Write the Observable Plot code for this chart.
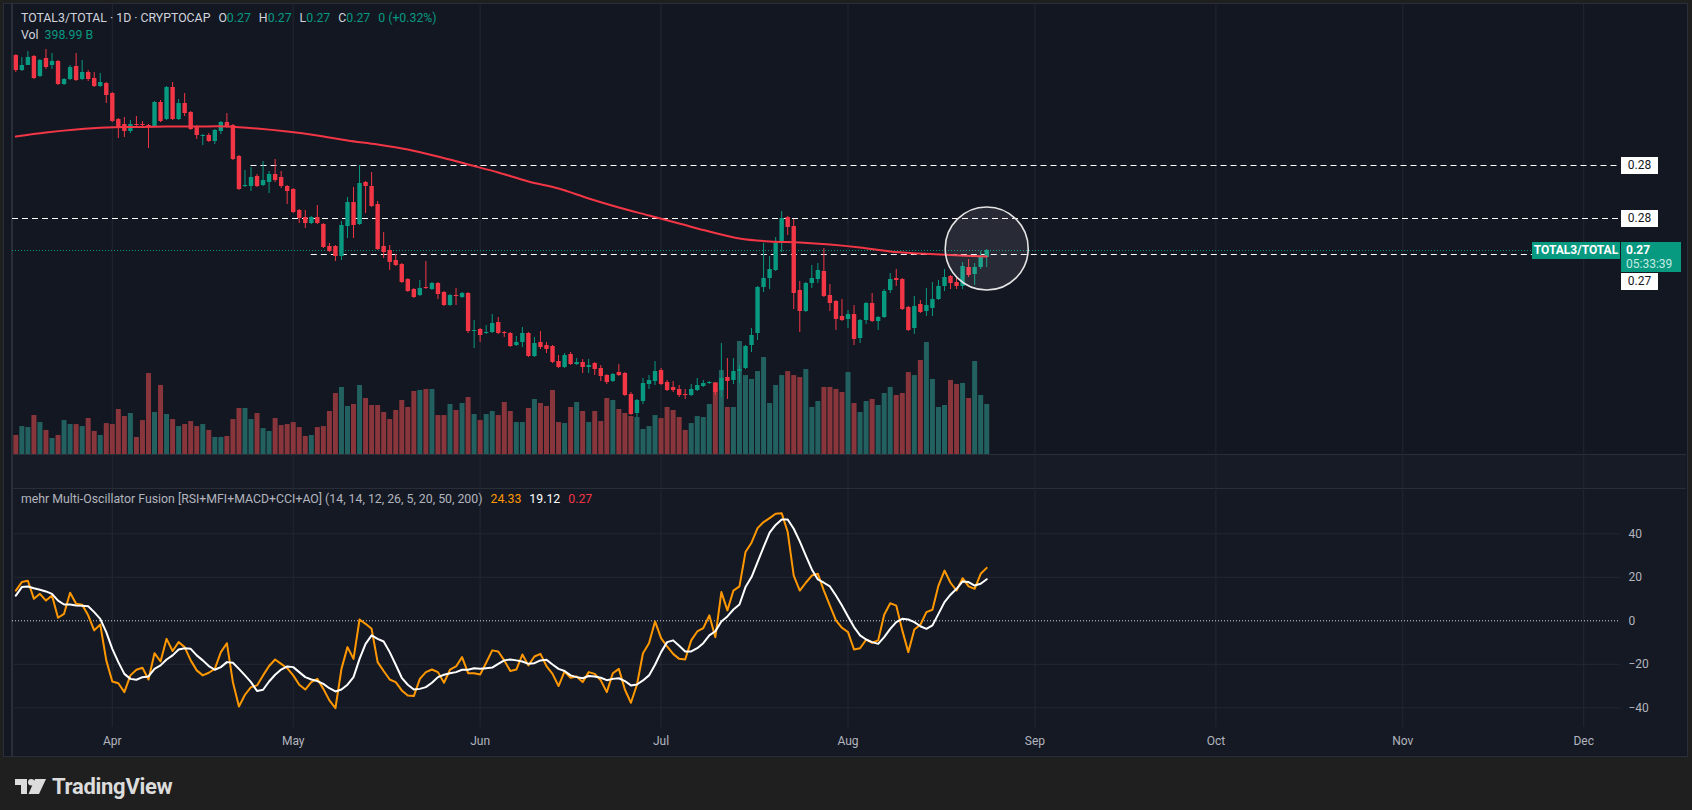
<!DOCTYPE html>
<html><head><meta charset="utf-8">
<script src="https://cdn.jsdelivr.net/npm/d3@7"></script>
<script src="https://cdn.jsdelivr.net/npm/@observablehq/plot@0.6"></script>
<style>
html,body{margin:0;padding:0;background:#1f1f1f;}
#wrap{position:relative;width:1692px;height:810px;overflow:hidden;background:#1f1f1f;font-family:Roboto,"Noto Sans",sans-serif;}
#wrap > div, #wrap > svg{position:absolute;}
#wrap svg{left:0;top:0;}
.row{display:flex;white-space:nowrap;font-size:12.3px;line-height:16px;}
.row span{display:inline-block;}
</style></head><body><div id="wrap"></div>
<script>
// ---------------- data ----------------
const startDate = "2025-03-16"; // first daily candle
const open = [
0.2935,0.2920,0.2925,0.2934,0.2914,0.2932,0.2925,0.2929,0.2906,0.2911,
0.2924,0.2911,0.2918,0.2912,0.2904,0.2907,0.2897,0.2871,0.2866,0.2859,
0.2866,0.2866,0.2865,0.2864,0.2888,0.2871,0.2903,0.2871,0.2887,0.2878,
0.2864,0.2854,0.2855,0.2849,0.2859,0.2868,0.2865,0.2834,0.2804,0.2804,
0.2814,0.2805,0.2808,0.2816,0.2813,0.2804,0.2801,0.2780,0.2773,0.2767,
0.2773,0.2766,0.2744,0.2744,0.2734,0.2764,0.2788,0.2766,0.2808,0.2804,
0.2786,0.2744,0.2740,0.2730,0.2726,0.2711,0.2701,0.2695,0.2703,0.2701,
0.2707,0.2698,0.2685,0.2695,0.2693,0.2697,0.2659,0.2661,0.2657,0.2658,
0.2668,0.2658,0.2657,0.2645,0.2648,0.2657,0.2634,0.2648,0.2645,0.2644,
0.2629,0.2623,0.2636,0.2626,0.2628,0.2623,0.2627,0.2622,0.2615,0.2609,
0.2618,0.2617,0.2596,0.2577,0.2589,0.2606,0.2609,0.2620,0.2608,0.2603,
0.2601,0.2596,0.2595,0.2600,0.2604,0.2607,0.2607,0.2600,0.2613,0.2610,
0.2619,0.2622,0.2645,0.2657,0.2703,0.2712,0.2720,0.2747,0.2773,0.2764,
0.2700,0.2679,0.2707,0.2711,0.2719,0.2695,0.2689,0.2674,0.2671,0.2676,
0.2652,0.2670,0.2687,0.2669,0.2673,0.2700,0.2712,0.2711,0.2683,0.2662,
0.2686,0.2679,0.2682,0.2691,0.2704,0.2714,0.2708,0.2704,0.2723,0.2716,
0.2723,0.2733];
const high = [
0.2936,0.2933,0.2939,0.2935,0.2931,0.2941,0.2937,0.2930,0.2912,0.2925,
0.2937,0.2930,0.2920,0.2918,0.2917,0.2908,0.2898,0.2872,0.2873,0.2870,
0.2874,0.2869,0.2866,0.2889,0.2890,0.2904,0.2908,0.2891,0.2897,0.2879,
0.2865,0.2856,0.2857,0.2861,0.2869,0.2877,0.2866,0.2835,0.2820,0.2823,
0.2816,0.2829,0.2819,0.2831,0.2819,0.2805,0.2802,0.2781,0.2780,0.2774,
0.2785,0.2767,0.2747,0.2745,0.2769,0.2793,0.2803,0.2825,0.2809,0.2818,
0.2789,0.2758,0.2745,0.2736,0.2727,0.2712,0.2702,0.2710,0.2729,0.2708,
0.2708,0.2699,0.2696,0.2702,0.2698,0.2698,0.2670,0.2662,0.2665,0.2676,
0.2673,0.2659,0.2658,0.2654,0.2663,0.2658,0.2653,0.2659,0.2648,0.2645,
0.2635,0.2637,0.2638,0.2632,0.2631,0.2631,0.2628,0.2625,0.2616,0.2617,
0.2626,0.2618,0.2598,0.2591,0.2612,0.2615,0.2629,0.2622,0.2610,0.2609,
0.2605,0.2601,0.2606,0.2612,0.2610,0.2609,0.2608,0.2647,0.2632,0.2632,
0.2625,0.2645,0.2662,0.2704,0.2747,0.2734,0.2753,0.2779,0.2774,0.2771,
0.2709,0.2708,0.2725,0.2727,0.2742,0.2706,0.2690,0.2691,0.2680,0.2685,
0.2671,0.2688,0.2697,0.2674,0.2701,0.2717,0.2721,0.2712,0.2684,0.2694,
0.2690,0.2702,0.2708,0.2710,0.2721,0.2715,0.2714,0.2728,0.2731,0.2727,
0.2739,0.2741];
const low = [
0.2918,0.2919,0.2925,0.2911,0.2913,0.2921,0.2921,0.2905,0.2905,0.2910,
0.2909,0.2910,0.2909,0.2903,0.2903,0.2887,0.2868,0.2852,0.2853,0.2857,
0.2864,0.2864,0.2842,0.2863,0.2868,0.2870,0.2870,0.2870,0.2874,0.2860,
0.2851,0.2845,0.2848,0.2846,0.2856,0.2862,0.2830,0.2800,0.2803,0.2799,
0.2803,0.2804,0.2797,0.2808,0.2802,0.2786,0.2777,0.2767,0.2762,0.2766,
0.2766,0.2742,0.2738,0.2729,0.2730,0.2752,0.2752,0.2765,0.2777,0.2783,
0.2740,0.2732,0.2720,0.2724,0.2707,0.2698,0.2692,0.2694,0.2701,0.2700,
0.2691,0.2684,0.2684,0.2685,0.2692,0.2657,0.2642,0.2648,0.2656,0.2657,
0.2656,0.2653,0.2643,0.2644,0.2643,0.2633,0.2633,0.2641,0.2637,0.2627,
0.2622,0.2622,0.2625,0.2625,0.2617,0.2617,0.2615,0.2609,0.2606,0.2608,
0.2614,0.2594,0.2575,0.2573,0.2586,0.2601,0.2605,0.2605,0.2599,0.2598,
0.2593,0.2591,0.2594,0.2599,0.2603,0.2606,0.2595,0.2593,0.2591,0.2606,
0.2607,0.2621,0.2638,0.2650,0.2698,0.2701,0.2719,0.2738,0.2755,0.2681,
0.2658,0.2678,0.2702,0.2707,0.2693,0.2679,0.2660,0.2669,0.2662,0.2645,
0.2647,0.2666,0.2668,0.2660,0.2672,0.2697,0.2704,0.2680,0.2659,0.2656,
0.2677,0.2674,0.2674,0.2690,0.2699,0.2701,0.2701,0.2701,0.2713,0.2705,
0.2721,0.2723];
const close = [
0.2920,0.2925,0.2933,0.2912,0.2930,0.2923,0.2929,0.2906,0.2911,0.2923,
0.2910,0.2918,0.2911,0.2904,0.2908,0.2895,0.2869,0.2863,0.2859,0.2866,
0.2865,0.2865,0.2864,0.2888,0.2869,0.2903,0.2871,0.2887,0.2877,0.2861,
0.2855,0.2855,0.2849,0.2860,0.2868,0.2863,0.2831,0.2801,0.2805,0.2813,
0.2804,0.2810,0.2816,0.2810,0.2804,0.2799,0.2778,0.2772,0.2767,0.2773,
0.2767,0.2743,0.2739,0.2734,0.2765,0.2788,0.2765,0.2807,0.2804,0.2784,
0.2741,0.2738,0.2728,0.2725,0.2708,0.2699,0.2693,0.2702,0.2702,0.2707,
0.2696,0.2685,0.2695,0.2694,0.2697,0.2659,0.2660,0.2655,0.2658,0.2667,
0.2657,0.2657,0.2644,0.2648,0.2657,0.2634,0.2647,0.2643,0.2641,0.2628,
0.2623,0.2635,0.2626,0.2628,0.2623,0.2625,0.2621,0.2614,0.2608,0.2616,
0.2615,0.2595,0.2576,0.2590,0.2607,0.2610,0.2619,0.2606,0.2600,0.2600,
0.2595,0.2595,0.2601,0.2605,0.2607,0.2608,0.2598,0.2612,0.2609,0.2619,
0.2621,0.2644,0.2655,0.2703,0.2712,0.2721,0.2747,0.2772,0.2763,0.2697,
0.2679,0.2707,0.2712,0.2720,0.2694,0.2687,0.2671,0.2670,0.2676,0.2651,
0.2670,0.2687,0.2669,0.2673,0.2699,0.2711,0.2710,0.2681,0.2660,0.2684,
0.2678,0.2685,0.2691,0.2704,0.2713,0.2707,0.2704,0.2724,0.2715,0.2723,
0.2734,0.2740];
// volume in billions
const volume = [
152,223,215,311,255,192,128,152,271,239,
239,223,287,184,152,247,239,359,303,327,
136,271,646,335,551,319,279,223,239,263,
223,239,192,136,136,144,279,367,367,279,
327,207,184,287,231,239,255,215,144,152,
215,223,343,487,535,383,399,551,447,391,
391,335,279,351,431,375,503,511,519,519,
311,311,399,351,407,455,319,271,319,343,
311,415,343,255,255,367,439,407,383,511,
255,247,375,415,343,255,343,263,447,431,
359,327,303,295,200,223,311,287,375,351,
295,192,247,303,295,399,575,670,375,375,
902,630,599,662,774,407,551,630,662,630,
614,678,375,423,535,535,519,495,654,407,
335,423,439,391,487,535,471,487,654,630,
750,894,599,375,391,591,559,567,447,742,
471,398.99];
// 200-day moving average, sampled at candle indices
const maIndex = [0,5,10,15,20,25,30,35,40,45,50,55,60,65,70,75,80,85,90,95,100,105,110,115,120,125,130,135,140,145,150,155,161];
const maValue = [0.2854,0.2858,0.2861,0.2863,0.28635,0.2864,0.2864,0.2864,0.2862,0.2859,0.2855,0.2850,0.2846,0.2841,0.2834,0.2826,0.2818,0.2809,0.2802,0.2792,0.2783,0.2775,0.2767,0.2759,0.2752,0.2749,0.2748,0.2746,0.2743,0.2739,0.2737,0.27355,0.2734];
// Multi-Oscillator Fusion
const oscFast = [
13.9,17.8,18.4,10.1,12.4,9.3,11.6,1.4,3.2,12.9,
7.8,7.4,2.5,-4.4,-1.7,-18.2,-27.9,-28.7,-32.8,-25.1,
-22.5,-21.6,-27.0,-14.9,-18.7,-8.3,-13.9,-9.8,-12.1,-18.2,
-22.8,-25.1,-23.9,-22.1,-14.4,-10.3,-28.2,-39.4,-34.0,-30.5,
-29.7,-25.1,-20.8,-17.8,-19.8,-21.8,-25.1,-29.4,-31.6,-28.2,
-26.7,-31.3,-36.6,-40.2,-22.1,-12.1,-17.5,0.6,-1.4,-3.7,
-19.0,-23.1,-27.0,-28.2,-32.0,-34.3,-34.6,-26.7,-23.6,-22.4,
-23.6,-28.5,-22.5,-21.0,-16.7,-24.1,-24.1,-24.7,-19.3,-13.6,
-14.1,-18.2,-23.1,-22.4,-15.5,-20.5,-16.4,-15.2,-20.8,-24.4,
-30.0,-23.3,-26.2,-25.6,-28.2,-23.6,-24.4,-27.4,-32.8,-24.1,
-22.1,-31.6,-37.7,-29.4,-14.9,-10.3,-0.3,-8.0,-11.8,-15.2,
-17.5,-17.8,-9.0,-4.9,-3.4,2.5,-7.5,13.2,4.8,13.9,
15.8,31.6,35.9,42.6,45.4,47.2,49.2,49.5,40.8,20.8,
13.9,17.5,20.8,21.6,13.9,7.0,0.2,-3.2,-5.2,-13.2,
-12.6,-8.7,-10.1,-9.0,2.8,8.1,7.0,-4.4,-14.4,-4.0,
-1.8,4.0,5.1,16.2,23.1,17.5,13.9,19.6,15.8,14.7,
21.6,24.33];
const oscSignal = [
11.6,15.5,15.8,15.0,14.3,13.5,12.4,9.3,7.5,7.5,
7.0,6.9,6.7,4.0,0.9,-5.2,-12.9,-19.0,-24.4,-26.7,
-27.1,-25.9,-25.6,-22.1,-20.5,-17.8,-15.9,-13.2,-12.6,-12.9,
-15.9,-18.2,-20.8,-22.5,-21.3,-19.0,-19.3,-22.1,-25.1,-28.2,
-32.3,-31.7,-27.9,-24.8,-22.4,-21.0,-21.3,-23.6,-25.9,-27.0,
-27.7,-29.0,-31.0,-32.5,-31.6,-29.4,-25.9,-17.5,-10.6,-6.7,
-8.3,-9.5,-14.4,-20.2,-26.2,-29.4,-31.6,-31.3,-30.5,-28.5,
-25.9,-24.8,-24.1,-23.6,-22.5,-22.5,-21.8,-22.1,-21.8,-21.5,
-19.8,-18.2,-17.8,-18.2,-18.7,-19.8,-19.5,-18.2,-17.9,-20.1,
-22.1,-23.1,-25.1,-25.9,-26.4,-25.4,-25.6,-26.2,-27.3,-26.7,
-26.4,-27.7,-29.7,-29.3,-27.4,-25.1,-20.2,-14.4,-9.8,-9.0,
-11.5,-14.1,-14.1,-12.6,-10.3,-6.7,-4.8,-0.3,2.0,5.2,
7.5,15.5,20.1,27.0,33.9,40.5,44.1,46.6,46.6,42.3,
36.5,30.0,23.6,19.0,17.5,15.8,11.6,7.0,2.0,-2.9,
-6.7,-8.6,-9.8,-10.6,-7.5,-3.7,-0.6,0.9,0.6,-0.6,
-2.5,-3.7,-2.1,3.2,8.6,12.0,14.7,18.1,17.8,16.2,
17.0,19.12];
// horizontal level lines drawn on the chart
const levelPrice = [0.2825, 0.2772, 0.2736];
const levelFrom = ["2025-04-24", null, "2025-05-04"];
const levelLabel = ["0.28", "0.28", "0.27"];
const lastPrice = 0.2740, lastLabel = "0.27", countdown = "05:33:39";
const circlePrice = 0.2742;
const monthTicks = ["2025-04-01","2025-05-01","2025-06-01","2025-07-01","2025-08-01","2025-09-01","2025-10-01","2025-11-01","2025-12-01"];
const oscTicks = [-40,-20,0,20,40];
const oscGrid = [-40,-20,20,40];
const legendOHLC = [["O","0.27"],["H","0.27"],["L","0.27"],["C","0.27"]];
const legendChange = "0 (+0.32%)";
const legendVol = "398.99 B";
const oscName = "mehr Multi-Oscillator Fusion [RSI+MFI+MACD+CCI+AO] (14, 14, 12, 26, 5, 20, 50, 200)";
const oscLegendValues = [["24.33", "#ff9800"], ["19.12", "#ffffff"], ["0.27", "#f23645"]];

// ---------------- build ----------------
const GREEN = "#089981", RED = "#f23645";
const start = new Date(startDate + "T00:00:00Z");
const candles = open.map((o, i) => ({
  date: d3.utcDay.offset(start, i), open: o, high: high[i], low: low[i], close: close[i],
  vol: volume[i], fast: oscFast[i], signal: oscSignal[i], up: close[i] >= o
}));
const maData = maIndex.map((i, k) => ({date: candles[i].date, price: maValue[k]}));
const months = monthTicks.map(s => new Date(s + "T00:00:00Z"));
const apr1 = months[0];
const dayMs = 864e5;
const xDomain = [new Date(+apr1 - 16.55 * dayMs), new Date(+apr1 + 250.1 * dayMs)];
const xOpt = () => ({type: "utc", domain: xDomain, range: [12, 1620], axis: null});
const baseStyle = {background: "transparent", fontFamily: "Roboto, sans-serif", fontSize: "12px", color: "#b2b5be", overflow: "visible"};
const base = {width: 1692, height: 810, marginTop: 3, marginRight: 72, marginBottom: 83, marginLeft: 12, style: baseStyle};

const wrap = document.getElementById("wrap");
function box(css, html) {
  const d = document.createElement("div");
  Object.assign(d.style, css);
  if (html != null) d.innerHTML = html;
  wrap.appendChild(d);
  return d;
}
// frame / pane backgrounds
box({left: "3px", top: "3px", width: "1683px", height: "752px", background: "#131722", border: "1px solid #2a2e39"});
box({left: "11px", top: "4px", width: "2px", height: "752px", background: "#2a2e39"});
box({left: "13px", top: "455px", width: "1673px", height: "33px", background: "#171b26"});
box({left: "13px", top: "489px", width: "1673px", height: "266px", background: "#151924"});
box({left: "13px", top: "454px", width: "1673px", height: "1px", background: "#2a2e39"});
box({left: "13px", top: "488px", width: "1673px", height: "1px", background: "#2a2e39"});

// grid + oscillator pane
const oscPlot = Plot.plot({
  ...base,
  x: xOpt(),
  y: {domain: [0, 40], range: [620.3, 533.3], axis: null},
  marks: [
    Plot.ruleX(months, {stroke: "#232733", strokeWidth: 1}),
    Plot.ruleY(oscGrid, {stroke: "#232733", strokeWidth: 1}),
    Plot.ruleY([0], {stroke: "#d6d8de", strokeWidth: 1, strokeDasharray: "1,2"}),
    Plot.line(candles, {x: "date", y: "fast", stroke: "#ff9800", strokeWidth: 2}),
    Plot.line(candles, {x: "date", y: "signal", stroke: "#ffffff", strokeWidth: 2}),
    Plot.axisX(months, {anchor: "bottom", tickSize: 0, tickPadding: 9, tickFormat: d3.utcFormat("%b"), fontSize: 12, fill: "#b2b5be"}),
    Plot.axisY(oscTicks, {anchor: "right", tickSize: 0, tickPadding: 8, textAnchor: "start", fontSize: 12, fill: "#b2b5be"})
  ]
});
wrap.appendChild(oscPlot);

// volume
const volPlot = Plot.plot({
  ...base,
  x: xOpt(),
  y: {domain: [0, 1000], range: [454, 454 - 1000 / 7.98], axis: null},
  marks: [
    Plot.ruleX(candles, {filter: d => d.up, x: "date", y1: 0, y2: "vol", stroke: "#22615f", strokeWidth: 5}),
    Plot.ruleX(candles, {filter: d => !d.up, x: "date", y1: 0, y2: "vol", stroke: "#88353b", strokeWidth: 5})
  ]
});
wrap.appendChild(volPlot);

// price pane
const levels = levelPrice.map((p, i) => ({price: p, from: levelFrom[i] ? new Date(levelFrom[i] + "T00:00:00Z") : xDomain[0], to: xDomain[1]}));
const mainPlot = Plot.plot({
  ...base,
  x: xOpt(),
  y: {domain: [0.2990, 0.2500], range: [0, 490], axis: null},
  marks: [
    Plot.ruleY(levels, {y: "price", x1: "from", x2: "to", stroke: "#ffffff", strokeWidth: 1, strokeDasharray: "6,4"}),
    Plot.ruleY([lastPrice], {stroke: GREEN, strokeWidth: 1, strokeDasharray: "1,2"}),
    Plot.ruleX(candles, {filter: d => d.up, x: "date", y1: "low", y2: "high", stroke: GREEN, strokeWidth: 1}),
    Plot.ruleX(candles, {filter: d => !d.up, x: "date", y1: "low", y2: "high", stroke: RED, strokeWidth: 1}),
    Plot.ruleX(candles, {filter: d => d.up, x: "date", y1: "open", y2: "close", stroke: GREEN, strokeWidth: 4.4}),
    Plot.ruleX(candles, {filter: d => !d.up, x: "date", y1: "open", y2: "close", stroke: RED, strokeWidth: 4.4}),
    Plot.line(maData, {x: "date", y: "price", stroke: "#f23645", strokeWidth: 2, curve: "catmull-rom"}),
    Plot.dot([{date: candles[candles.length - 1].date, price: circlePrice}], {x: "date", y: "price", r: 41.5, fill: "#ffffff", fillOpacity: 0.09, stroke: "#e4e4e4", strokeWidth: 1.6})
  ]
});
wrap.appendChild(mainPlot);

// ---------------- labels ----------------
const yP = v => mainPlot.scale("y").apply(v);
const lbl = {position: "absolute", height: "17px", lineHeight: "17px", fontSize: "12px", textAlign: "center", whiteSpace: "nowrap"};
let lastTop = yP(lastPrice) - 8;
levelPrice.forEach((p, i) => {
  let top = yP(p) - 8.5;
  if (top < lastTop + 31 && top + 17 > lastTop) top = lastTop + 31;
  box({...lbl, left: "1621px", top: top + "px", width: "37px", background: "#ffffff", color: "#131722"}, levelLabel[i]);
});
box({...lbl, left: "1532px", top: lastTop + "px", width: "88px", background: GREEN, color: "#ffffff", fontWeight: "bold"}, "TOTAL3/TOTAL");
box({position: "absolute", left: "1621px", top: lastTop + "px", width: "60px", height: "30px", background: GREEN, color: "#ffffff", fontSize: "12px", lineHeight: "14px", padding: "1px 0 0 0", boxSizing: "border-box"},
  `<div style="padding-left:5px;font-weight:bold">${lastLabel}</div><div style="padding-left:5px;color:#c4ebe2">${countdown}</div>`);

// legends (flowing rows so items never overlap)
const gray = "#b2b5be", light = "#d1d4dc";
const r1 = box({left: "21px", top: "10px", color: light});
r1.className = "row";
r1.innerHTML = `<span>TOTAL3/TOTAL · 1D · CRYPTOCAP</span>` +
  legendOHLC.map(([k, v]) => `<span style="margin-left:8px">${k}<span style="color:${GREEN}">${v}</span></span>`).join("") +
  `<span style="margin-left:8px;color:${GREEN}">${legendChange}</span>`;
const r2 = box({left: "21px", top: "27px", color: light});
r2.className = "row";
r2.innerHTML = `<span>Vol</span><span style="margin-left:6px;color:${GREEN}">${legendVol}</span>`;
const r3 = box({left: "21px", top: "491px", color: gray});
r3.className = "row";
r3.innerHTML = `<span>${oscName}</span>` + oscLegendValues.map(([v, c]) => `<span style="margin-left:8px;color:${c}">${v}</span>`).join("");

// TradingView logo
box({left: "15px", top: "778px", width: "160px", height: "20px"},
  `<svg width="32" height="16" viewBox="0 0 32 16" style="position:absolute;left:0;top:1px"><path d="M0 0H12V15H6V6H0Z" fill="#dcdcdc"/><circle cx="16.2" cy="3.2" r="3.2" fill="#dcdcdc"/><path d="M20 0H31L24 15H13.5Z" fill="#dcdcdc"/></svg><span style="position:absolute;left:37px;top:-4px;font-size:22px;font-weight:bold;color:#dcdcdc;letter-spacing:-0.3px;font-family:Roboto,'Noto Sans',sans-serif">TradingView</span>`);
</script>
</body></html>
